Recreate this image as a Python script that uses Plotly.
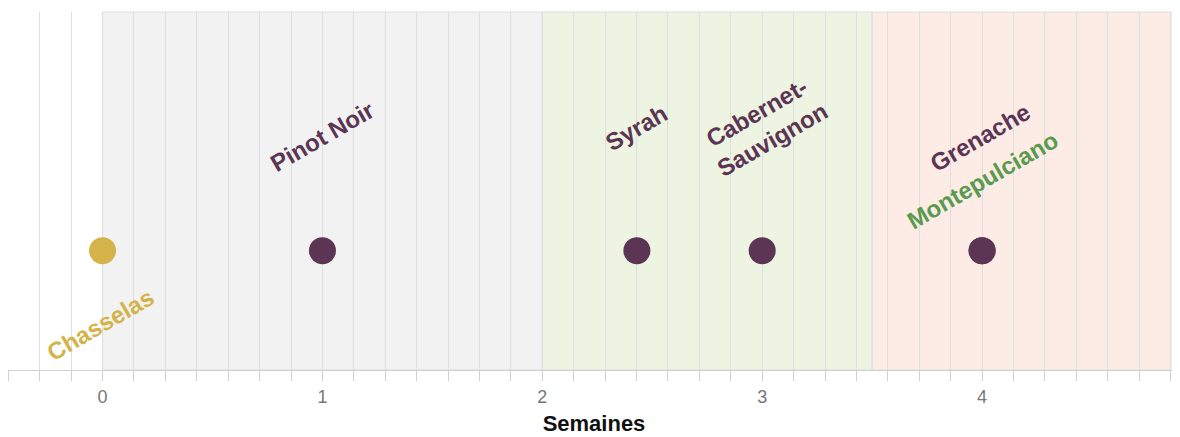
import plotly.graph_objects as go

# Data
grapes = ["Montepulciano", "Chasselas", "Pinot Noir", "Syrah", "Cabernet-<br>Sauvignon", "Grenache"]
weeks = [4, 0, 1, 2.43, 3, 4]
label_colors = ["#5a9a4e", "#d4b34a", "#5b3553", "#5b3553", "#5b3553", "#5b3553"]
marker_colors = ["#5b3553", "#d4b34a", "#5b3553", "#5b3553", "#5b3553", "#5b3553"]
phase_starts = [0, 2, 3.5]
phase_ends = [2, 3.5, 4.9]
phase_colors = ["#f2f2f2", "#edf4e2", "#fdece6"]
tick_vals = [0, 1, 2, 3, 4]

# label pixel offsets (style)
label_dx = [0, -2, 0, 0, 2, -2]
label_dy = [70, -74, 114, 123, 125, 113]

x_range = [-0.43, 4.9]

fig = go.Figure()

fig.add_trace(go.Scatter(
    x=weeks, y=[0] * len(weeks), mode="markers",
    marker=dict(size=27, color=marker_colors, line=dict(width=0)),
    hoverinfo="skip", showlegend=False, cliponaxis=False,
))

for s, e, c in zip(phase_starts, phase_ends, phase_colors):
    fig.add_shape(type="rect", xref="x", yref="paper", x0=s, x1=e, y0=0, y1=1,
                  fillcolor=c, line=dict(color="#dcdcdc", width=1), layer="below")

for g, w, c, dx, dy in zip(grapes, weeks, label_colors, label_dx, label_dy):
    fig.add_annotation(x=w, y=0, text="<b>" + g + "</b>", showarrow=False,
                       textangle=-30, xshift=dx, yshift=dy,
                       font=dict(family="Liberation Sans, Arial", size=24, color=c))

fig.update_layout(
    width=1172, height=428,
    margin=dict(l=0, r=0, t=4, b=66),
    plot_bgcolor="white", paper_bgcolor="white",
    xaxis=dict(
        range=x_range, tickvals=tick_vals, ticktext=[str(t) for t in tick_vals],
        showgrid=True, gridcolor="#dedede", gridwidth=1,
        ticks="outside", ticklen=10, tickcolor="#d0d0d0",
        showline=True, linecolor="#d0d0d0", linewidth=1,
        zeroline=False,
        tickfont=dict(family="Liberation Sans, Arial", size=18, color="#777777"),
        title=dict(text="<b>Semaines</b>", font=dict(family="Liberation Sans, Arial", size=22, color="#111111"), standoff=13),
        minor=dict(dtick=1/7, tick0=0, ticks="outside", ticklen=10, tickcolor="#d0d0d0",
                   showgrid=True, gridcolor="#dedede", gridwidth=1),
        automargin=False,
    ),
    yaxis=dict(range=[-1, 2], visible=False, showgrid=False, zeroline=False),
    font=dict(family="Liberation Sans, Arial"),
)

fig.write_html("out.html")
